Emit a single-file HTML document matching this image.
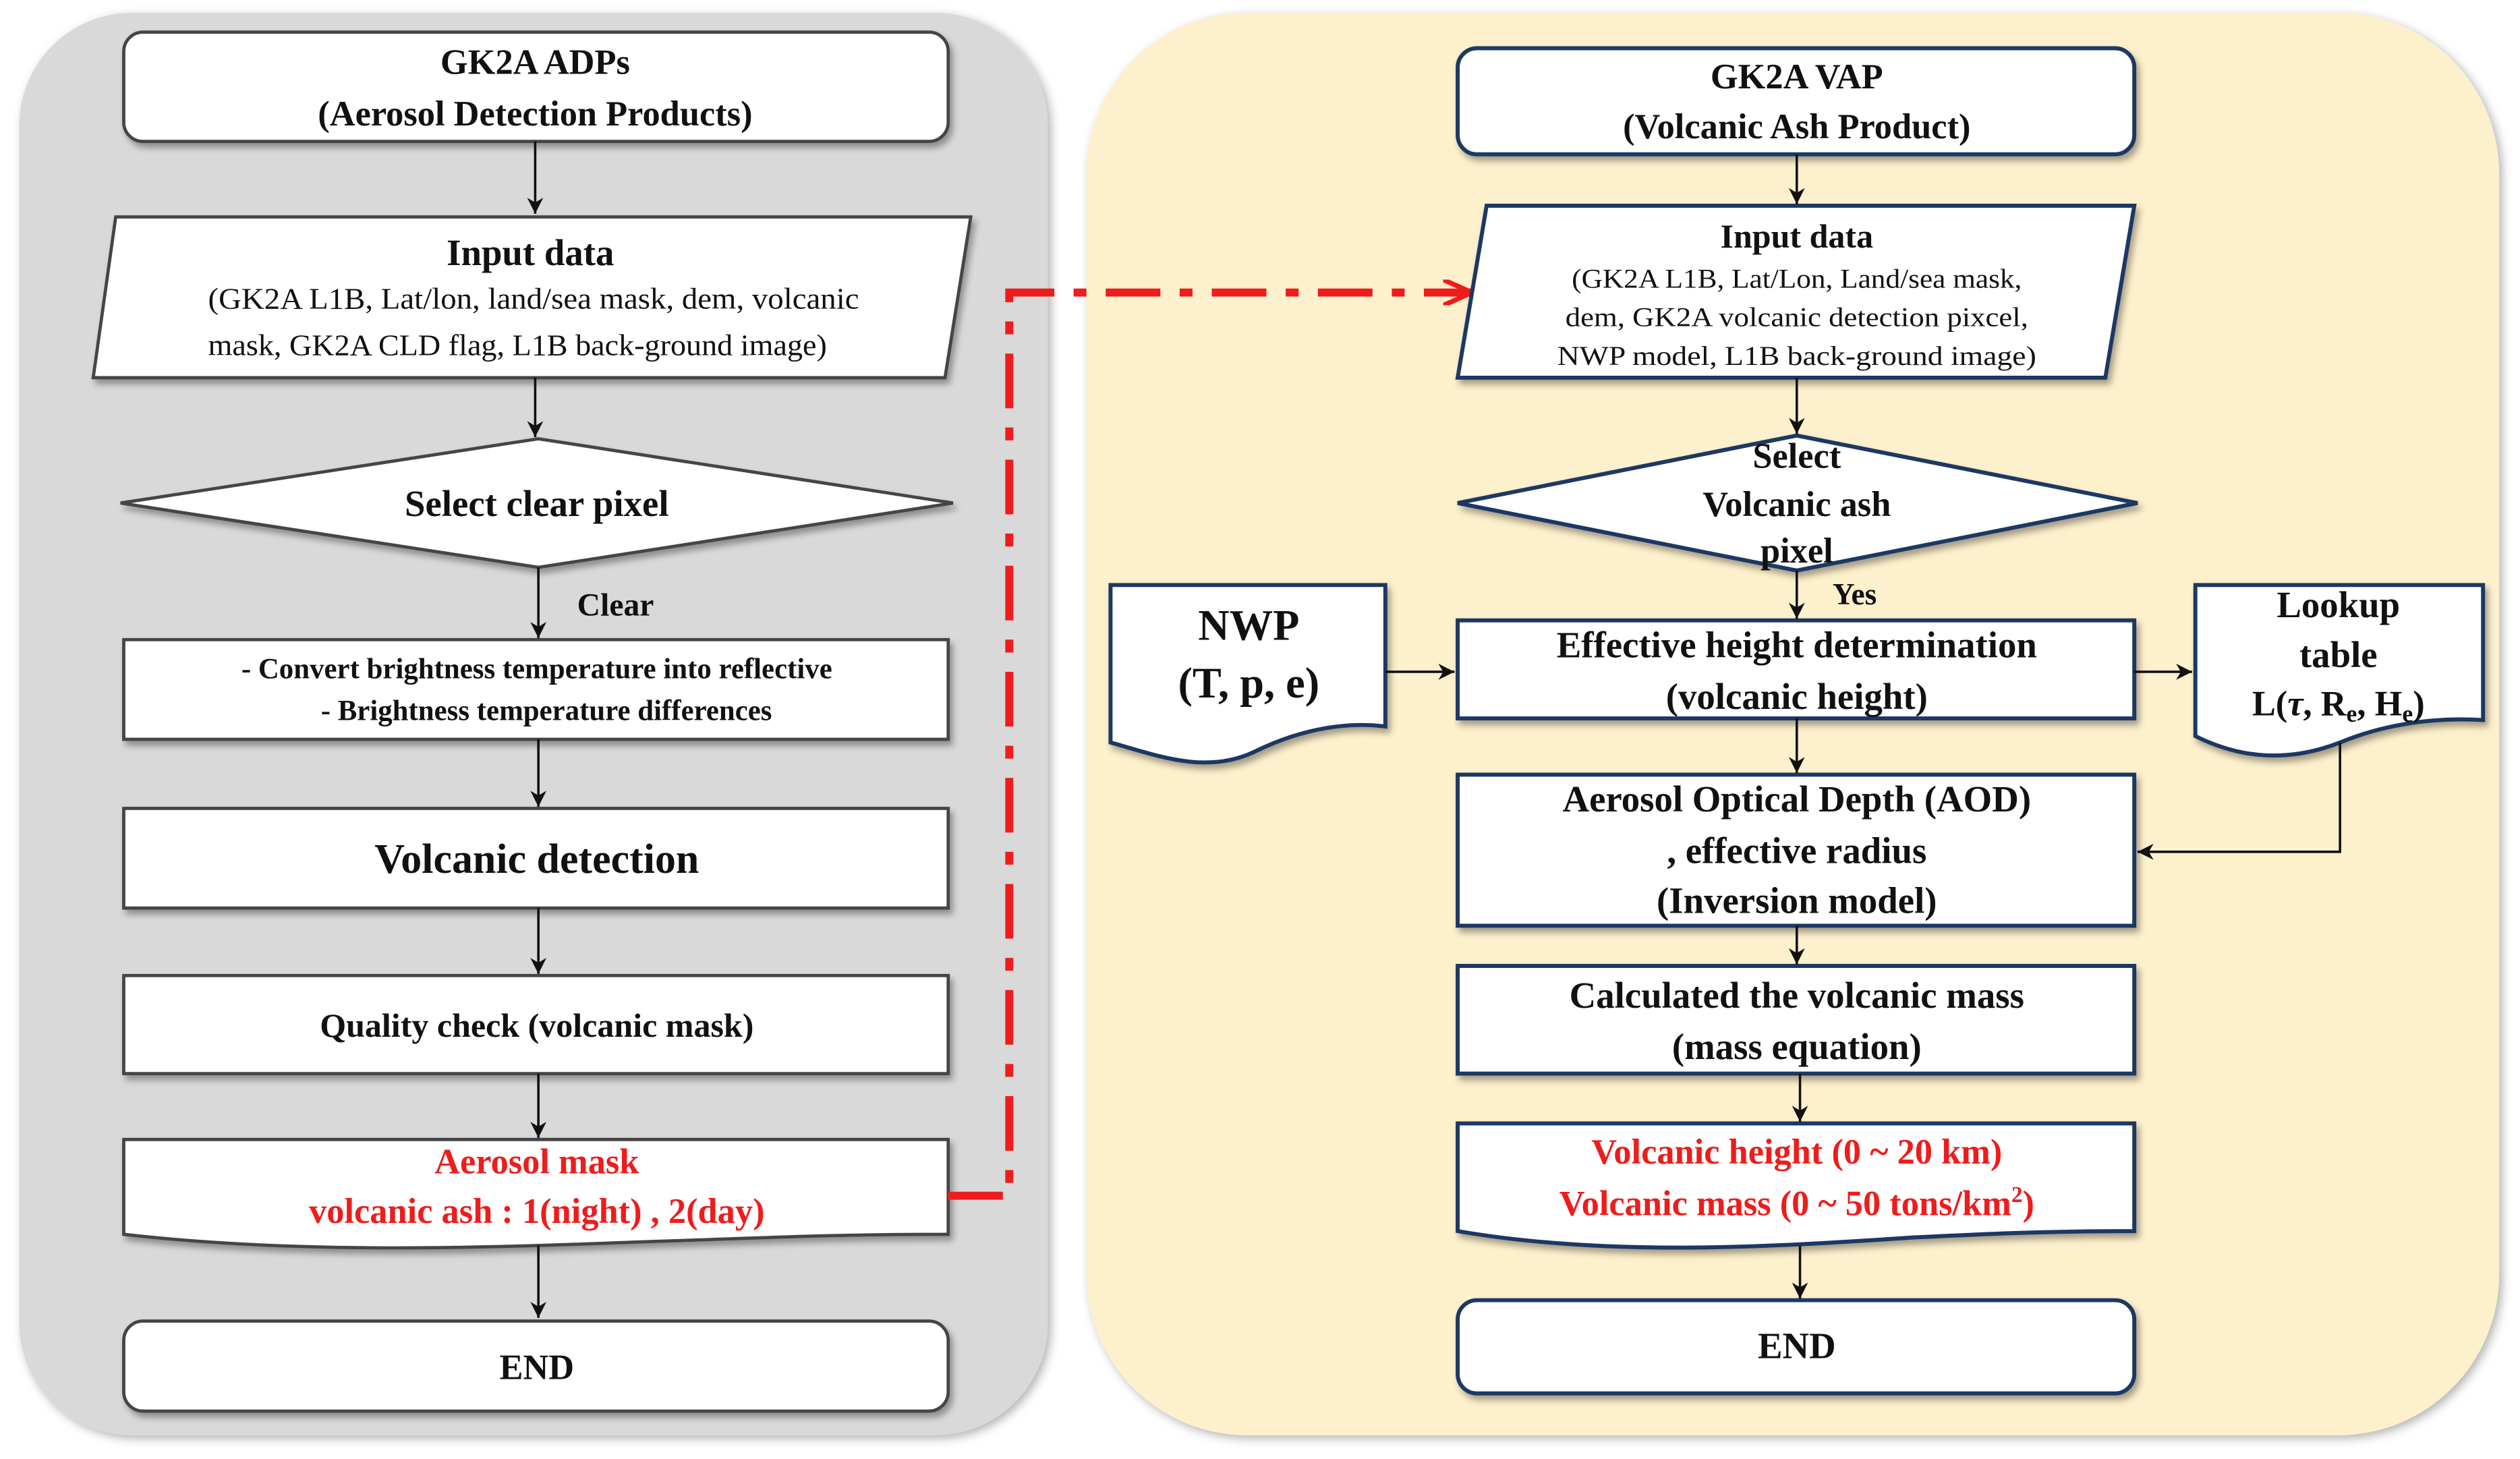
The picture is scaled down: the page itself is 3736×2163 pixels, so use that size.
<!DOCTYPE html>
<html><head><meta charset="utf-8"><style>
html,body{margin:0;padding:0;background:#fff;}
svg{display:block;}
text{font-family:"Liberation Serif",serif;font-weight:bold;fill:#111;text-anchor:middle;}
.r{fill:#ee1c1c;}
</style></head><body>
<svg width="3736" height="2163" viewBox="0 0 1568 907.8" xmlns="http://www.w3.org/2000/svg">
<defs>
<filter id="sh" x="-10%" y="-10%" width="120%" height="130%"><feDropShadow dx="2" dy="3" stdDeviation="2" flood-color="#000" flood-opacity="0.35"/></filter>
<filter id="psh" x="-5%" y="-5%" width="110%" height="110%"><feDropShadow dx="2" dy="2" stdDeviation="3" flood-color="#000" flood-opacity="0.3"/></filter>
<marker id="a" markerWidth="12" markerHeight="12" refX="10" refY="5" orient="auto" markerUnits="userSpaceOnUse"><path d="M0,0 L10,5 L0,10 L3,5 z" fill="#111"/></marker>
<marker id="ra" markerWidth="20" markerHeight="16" refX="18" refY="8" orient="auto" markerUnits="userSpaceOnUse"><path d="M0,0 L18,8 L0,16" fill="none" stroke="#ee1c1c" stroke-width="3"/></marker>
</defs>
<rect x="12" y="8" width="640" height="885" rx="70" fill="#d9d9d9" filter="url(#psh)"/>
<rect x="676" y="8" width="879" height="885" rx="100" fill="#fdf0cc" filter="url(#psh)"/>

<g stroke="#444" stroke-width="2" fill="#fff" filter="url(#sh)">
<rect x="77" y="20" width="513" height="68" rx="12"/>
<path d="M72,135 L604,135 L588,235 L58,235 z"/>
<path d="M75,313 L335,273 L593,313 L335,353 z"/>
<rect x="77" y="398" width="513" height="62"/>
<rect x="77" y="503" width="513" height="62"/>
<rect x="77" y="607" width="513" height="61"/>
<path d="M77,709 L590,709 L590,768 C520,768 480,770 420,772 C330,775 200,782 77,768 z"/>
<rect x="77" y="822" width="513" height="56" rx="12"/>
</g>
<g stroke="#111" stroke-width="1.5" fill="none" marker-end="url(#a)">
<line x1="333" y1="88" x2="333" y2="133"/>
<line x1="333" y1="235" x2="333" y2="272"/>
<line x1="335" y1="353" x2="335" y2="397"/>
<line x1="335" y1="460" x2="335" y2="502"/>
<line x1="335" y1="565" x2="335" y2="606"/>
<line x1="335" y1="668" x2="335" y2="708"/>
<line x1="335" y1="775" x2="335" y2="820"/>
</g>
<text x="333" y="46" font-size="22">GK2A ADPs</text>
<text x="333" y="78" font-size="22">(Aerosol Detection Products)</text>
<text x="330" y="165" font-size="23">Input data</text>
<text x="332" y="192" font-size="18.5" style="font-weight:normal" textLength="405" lengthAdjust="spacingAndGlyphs">(GK2A L1B, Lat/lon, land/sea mask, dem, volcanic</text>
<text x="322" y="221" font-size="18.5" style="font-weight:normal" textLength="385" lengthAdjust="spacingAndGlyphs">mask, GK2A CLD flag, L1B back-ground image)</text>
<text x="334" y="321" font-size="23">Select clear pixel</text>
<text x="383" y="383" font-size="20">Clear</text>
<text x="334" y="422" font-size="18">- Convert brightness temperature into reflective</text>
<text x="340" y="448" font-size="18">- Brightness temperature differences</text>
<text x="334" y="543" font-size="26">Volcanic detection</text>
<text x="334" y="645" font-size="21">Quality check (volcanic mask)</text>
<text x="334" y="730" font-size="22" class="r">Aerosol mask</text>
<text x="334" y="761" font-size="22" class="r">volcanic ash : 1(night) , 2(day)</text>
<text x="334" y="858" font-size="22">END</text>

<path d="M590,744 L628,744 L628,182 L916,182" fill="none" stroke="#ee1c1c" stroke-width="5" stroke-dasharray="34,12,8,12" marker-end="url(#ra)"/>

<g stroke="#1f3864" stroke-width="2.5" fill="#fff" filter="url(#sh)">
<rect x="907" y="30" width="421" height="66" rx="12"/>
<path d="M925,128 L1328,128 L1310,235 L907,235 z"/>
<path d="M907,313 L1118,271 L1330,313 L1118,355 z"/>
<rect x="907" y="386" width="421" height="61"/>
<path d="M691,364 L862,364 L862,452 C830,448 800,458 780,468 C750,482 720,470 691,462 z"/>
<path d="M1366,364 L1545,364 L1545,448 C1510,446 1480,452 1456,462 C1420,476 1390,470 1366,458 z"/>
<rect x="907" y="482" width="421" height="94"/>
<rect x="907" y="601" width="421" height="67"/>
<path d="M907,699 L1328,699 L1328,766 C1270,766 1230,768 1190,770 C1100,776 1000,782 907,766 z"/>
<rect x="907" y="809" width="421" height="58" rx="12"/>
</g>
<g stroke="#111" stroke-width="1.5" fill="none" marker-end="url(#a)">
<line x1="1118" y1="96" x2="1118" y2="127"/>
<line x1="1118" y1="235" x2="1118" y2="270"/>
<line x1="1118" y1="355" x2="1118" y2="385"/>
<line x1="862" y1="418" x2="905" y2="418"/>
<line x1="1328" y1="418" x2="1364" y2="418"/>
<polyline points="1456,462 1456,530 1330,530"/>
<line x1="1118" y1="447" x2="1118" y2="481"/>
<line x1="1118" y1="576" x2="1118" y2="600"/>
<line x1="1120" y1="668" x2="1120" y2="698"/>
<line x1="1120" y1="775" x2="1120" y2="808"/>
</g>
<text x="1118" y="55" font-size="22">GK2A VAP</text>
<text x="1118" y="86" font-size="22">(Volcanic Ash Product)</text>
<text x="1118" y="154" font-size="21">Input data</text>
<text x="1118" y="179" font-size="17" style="font-weight:normal" textLength="280" lengthAdjust="spacingAndGlyphs">(GK2A L1B, Lat/Lon, Land/sea mask,</text>
<text x="1118" y="203" font-size="17" style="font-weight:normal" textLength="288" lengthAdjust="spacingAndGlyphs">dem, GK2A volcanic detection pixcel,</text>
<text x="1118" y="227" font-size="17" style="font-weight:normal" textLength="298" lengthAdjust="spacingAndGlyphs">NWP model, L1B back-ground image)</text>
<text x="1118" y="291" font-size="22">Select</text>
<text x="1118" y="321" font-size="22">Volcanic ash</text>
<text x="1118" y="350" font-size="22">pixel</text>
<text x="1154" y="376" font-size="19">Yes</text>
<text x="1118" y="409" font-size="23">Effective height determination</text>
<text x="1118" y="441" font-size="23">(volcanic height)</text>
<text x="777" y="398" font-size="27">NWP</text>
<text x="777" y="434" font-size="27">(T, p, e)</text>
<text x="1455" y="384" font-size="23">Lookup</text>
<text x="1455" y="415" font-size="23">table</text>
<text x="1455" y="445" font-size="22">L(<tspan font-style="italic">τ</tspan>, R<tspan font-size="15" dy="4">e</tspan><tspan dy="-4">, H</tspan><tspan font-size="15" dy="4">e</tspan><tspan dy="-4">)</tspan></text>
<text x="1118" y="505" font-size="23">Aerosol Optical Depth (AOD)</text>
<text x="1118" y="537" font-size="23">, effective radius</text>
<text x="1118" y="568" font-size="23">(Inversion model)</text>
<text x="1118" y="627" font-size="23">Calculated the volcanic mass</text>
<text x="1118" y="659" font-size="23">(mass equation)</text>
<text x="1118" y="724" font-size="22" class="r">Volcanic height (0 ~ 20 km)</text>
<text x="1118" y="756" font-size="22" class="r">Volcanic mass (0 ~ 50 tons/km<tspan font-size="14" dy="-8">2</tspan><tspan dy="8">)</tspan></text>
<text x="1118" y="845" font-size="23">END</text>
</svg>
</body></html>
